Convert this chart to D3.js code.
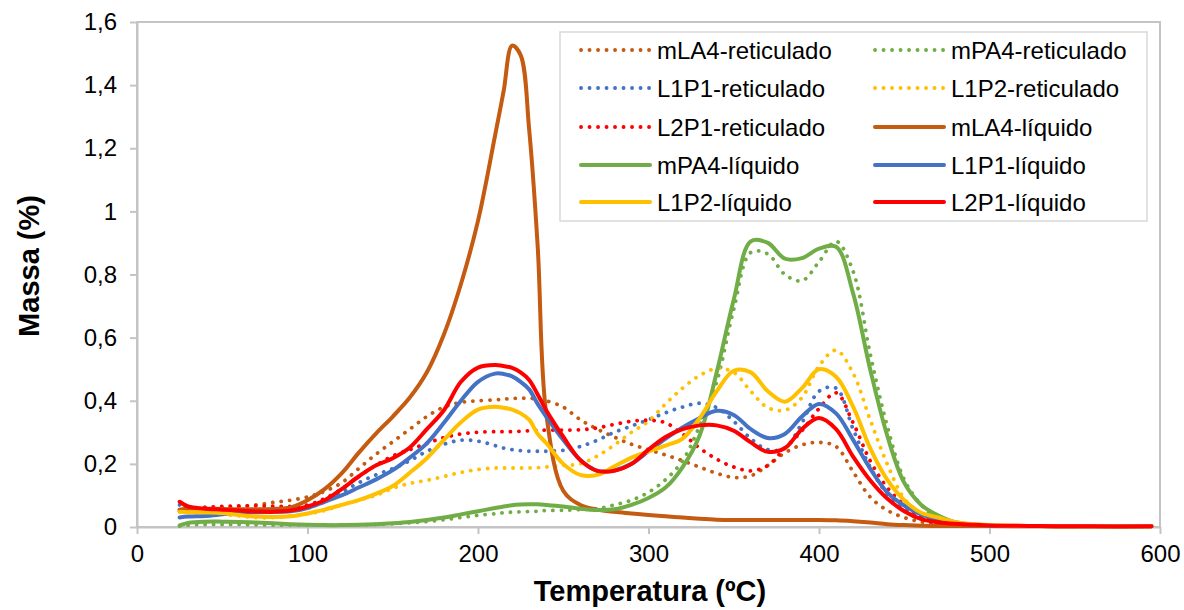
<!DOCTYPE html>
<html>
<head>
<meta charset="utf-8">
<script src="https://cdn.jsdelivr.net/npm/d3@7"></script>
<style>
  html, body { margin: 0; padding: 0; background: #fff; }
  svg { display: block; font-family: "Liberation Sans", Arial, sans-serif; }
</style>
</head>
<body>
<svg id="chart" width="1184" height="610"></svg>
<script>
// Temperature grid (ºC) shared by all DTG curves
const temperatures = [25, 30, 40, 50, 60, 70, 80, 90, 100, 110, 120, 130, 140, 150, 160, 170, 180, 190, 200,
  210, 215, 220, 225, 230, 235, 240, 250, 260, 270, 280, 290, 300, 310, 320, 330, 340, 350, 360, 370, 380,
  390, 400, 410, 420, 430, 440, 450, 460, 470, 480, 500, 530, 560, 595];

// Mass-loss rate (%) per sample
const mLA4Reticulado = [0.055, 0.06, 0.062, 0.063, 0.065, 0.07, 0.078, 0.085, 0.095, 0.113, 0.14, 0.185, 0.23, 0.27, 0.31, 0.35, 0.38, 0.395, 0.4,
  0.403, 0.405, 0.407, 0.408, 0.408, 0.405, 0.4, 0.38, 0.34, 0.31, 0.285, 0.262, 0.245, 0.228, 0.21, 0.19, 0.17, 0.157, 0.162, 0.195, 0.235,
  0.26, 0.268, 0.255, 0.175, 0.095, 0.053, 0.03, 0.016, 0.009, 0.006, 0.004, 0.003, 0.002, 0.002];
const mPA4Reticulado = [0.003, 0.006, 0.008, 0.008, 0.008, 0.007, 0.006, 0.006, 0.006, 0.006, 0.006, 0.007, 0.008, 0.01, 0.013, 0.017, 0.023, 0.03, 0.037,
  0.042, 0.045, 0.047, 0.048, 0.049, 0.05, 0.052, 0.053, 0.055, 0.058, 0.07, 0.085, 0.11, 0.15, 0.21, 0.32, 0.46, 0.69, 0.87, 0.865, 0.8,
  0.78, 0.84, 0.905, 0.81, 0.55, 0.32, 0.15, 0.07, 0.025, 0.01, 0.004, 0.003, 0.002, 0.002];
const L1P1Reticulado = [0.07, 0.062, 0.06, 0.058, 0.055, 0.052, 0.05, 0.055, 0.065, 0.085, 0.11, 0.14, 0.165, 0.185, 0.21, 0.24, 0.262, 0.275, 0.272,
  0.258, 0.25, 0.245, 0.242, 0.24, 0.24, 0.24, 0.243, 0.255, 0.275, 0.3, 0.32, 0.34, 0.362, 0.38, 0.392, 0.378, 0.335, 0.28, 0.245, 0.25,
  0.33, 0.43, 0.44, 0.31, 0.19, 0.105, 0.058, 0.03, 0.015, 0.008, 0.004, 0.003, 0.002, 0.002];
const L1P2Reticulado = [0.05, 0.048, 0.045, 0.04, 0.035, 0.03, 0.03, 0.035, 0.042, 0.052, 0.07, 0.085, 0.1, 0.123, 0.138, 0.148, 0.16, 0.173, 0.182,
  0.187, 0.187, 0.187, 0.187, 0.187, 0.188, 0.19, 0.195, 0.2, 0.225, 0.26, 0.3, 0.335, 0.39, 0.44, 0.48, 0.502, 0.49, 0.43, 0.378, 0.37,
  0.41, 0.51, 0.56, 0.487, 0.34, 0.2, 0.09, 0.042, 0.018, 0.009, 0.004, 0.003, 0.002, 0.002];
const L2P1Reticulado = [0.05, 0.058, 0.062, 0.065, 0.067, 0.067, 0.066, 0.065, 0.07, 0.09, 0.12, 0.16, 0.195, 0.225, 0.245, 0.265, 0.283, 0.295, 0.3,
  0.302, 0.302, 0.302, 0.303, 0.305, 0.306, 0.307, 0.307, 0.308, 0.314, 0.325, 0.335, 0.338, 0.33, 0.295, 0.25, 0.215, 0.19, 0.178, 0.195, 0.25,
  0.305, 0.375, 0.425, 0.33, 0.21, 0.125, 0.07, 0.033, 0.016, 0.008, 0.004, 0.003, 0.002, 0.002];
const mLA4Liquido = [0.055, 0.058, 0.058, 0.057, 0.056, 0.056, 0.057, 0.062, 0.085, 0.12, 0.17, 0.235, 0.295, 0.35, 0.41, 0.49, 0.61, 0.77, 0.97,
  1.24, 1.38, 1.525, 1.495, 1.26, 0.89, 0.36, 0.115, 0.07, 0.055, 0.048, 0.043, 0.038, 0.034, 0.03, 0.026, 0.023, 0.022, 0.022, 0.022, 0.022,
  0.022, 0.022, 0.021, 0.018, 0.014, 0.009, 0.006, 0.004, 0.003, 0.003, 0.003, 0.002, 0.002, 0.002];
const mPA4Liquido = [0.005, 0.013, 0.017, 0.017, 0.016, 0.014, 0.012, 0.009, 0.007, 0.006, 0.006, 0.007, 0.009, 0.012, 0.016, 0.022, 0.03, 0.04, 0.05,
  0.06, 0.065, 0.069, 0.071, 0.072, 0.072, 0.07, 0.065, 0.058, 0.054, 0.056, 0.07, 0.092, 0.125, 0.19, 0.29, 0.49, 0.72, 0.905, 0.9, 0.85,
  0.852, 0.882, 0.888, 0.74, 0.5, 0.29, 0.14, 0.07, 0.036, 0.015, 0.005, 0.003, 0.002, 0.002];
const L1P1Liquido = [0.03, 0.033, 0.035, 0.04, 0.045, 0.047, 0.048, 0.05, 0.06, 0.08, 0.1, 0.125, 0.15, 0.18, 0.22, 0.265, 0.33, 0.4, 0.46,
  0.486, 0.485, 0.477, 0.46, 0.436, 0.39, 0.35, 0.276, 0.212, 0.178, 0.18, 0.2, 0.24, 0.28, 0.315, 0.345, 0.368, 0.355, 0.31, 0.282, 0.295,
  0.35, 0.39, 0.36, 0.276, 0.185, 0.11, 0.068, 0.04, 0.024, 0.012, 0.005, 0.003, 0.002, 0.002];
const L1P2Liquido = [0.048, 0.047, 0.046, 0.044, 0.038, 0.033, 0.032, 0.034, 0.043, 0.055, 0.07, 0.085, 0.105, 0.13, 0.172, 0.218, 0.276, 0.332, 0.372,
  0.381, 0.378, 0.372, 0.36, 0.34, 0.295, 0.266, 0.2, 0.165, 0.165, 0.192, 0.22, 0.24, 0.258, 0.28, 0.345, 0.43, 0.495, 0.49, 0.43, 0.397,
  0.44, 0.5, 0.476, 0.381, 0.25, 0.15, 0.085, 0.045, 0.03, 0.015, 0.006, 0.003, 0.002, 0.002];
const L2P1Liquido = [0.08, 0.065, 0.058, 0.055, 0.052, 0.049, 0.048, 0.052, 0.065, 0.085, 0.12, 0.16, 0.195, 0.218, 0.252, 0.31, 0.37, 0.46, 0.505,
  0.513, 0.51, 0.504, 0.49, 0.466, 0.42, 0.37, 0.286, 0.212, 0.178, 0.178, 0.2, 0.245, 0.285, 0.31, 0.322, 0.322, 0.305, 0.268, 0.238, 0.25,
  0.31, 0.345, 0.31, 0.223, 0.148, 0.09, 0.05, 0.025, 0.015, 0.01, 0.005, 0.003, 0.002, 0.002];

const seriesNames = ["mLA4-reticulado", "mPA4-reticulado", "L1P1-reticulado", "L1P2-reticulado", "L2P1-reticulado",
  "mLA4-líquido", "mPA4-líquido", "L1P1-líquido", "L1P2-líquido", "L2P1-líquido"];
const seriesValues = [mLA4Reticulado, mPA4Reticulado, L1P1Reticulado, L1P2Reticulado, L2P1Reticulado,
  mLA4Liquido, mPA4Liquido, L1P1Liquido, L1P2Liquido, L2P1Liquido];
const seriesColors = ["#C55A11", "#70AD47", "#4472C4", "#FFC000", "#FF0000",
  "#C55A11", "#70AD47", "#4472C4", "#FFC000", "#FF0000"];
const seriesDotted = [true, true, true, true, true, false, false, false, false, false];

const xTicks = [0, 100, 200, 300, 400, 500, 600];
const yTicks = [0, 0.2, 0.4, 0.6, 0.8, 1, 1.2, 1.4, 1.6];
const yTickLabels = ["0", "0,2", "0,4", "0,6", "0,8", "1", "1,2", "1,4", "1,6"];

const svg = d3.select("#chart");
const plot = { left: 137, right: 1160, top: 22, bottom: 527 };

const x = d3.scaleLinear().domain([0, 600]).range([plot.left, plot.right]);
const y = d3.scaleLinear().domain([0, 1.6]).range([plot.bottom, plot.top]);

const axisColor = "#C4C4C4";

// plot-area frame
svg.append("rect")
  .attr("x", plot.left).attr("y", plot.top)
  .attr("width", plot.right - plot.left).attr("height", plot.bottom - plot.top)
  .attr("fill", "none").attr("stroke", axisColor).attr("stroke-width", 2);

// axes
const gx = svg.append("g")
  .attr("transform", `translate(0,${plot.bottom})`)
  .call(d3.axisBottom(x).tickValues(xTicks).tickSize(7).tickSizeOuter(0).tickPadding(11));
const gy = svg.append("g")
  .attr("transform", `translate(${plot.left},0)`)
  .call(d3.axisLeft(y).tickValues(yTicks).tickSize(7).tickSizeOuter(0).tickPadding(13)
    .tickFormat((d, i) => yTickLabels[i]));

[gx, gy].forEach(g => {
  g.select(".domain").attr("stroke", axisColor).attr("stroke-width", 2);
  g.selectAll(".tick line").attr("stroke", axisColor).attr("stroke-width", 2);
  g.selectAll(".tick text").attr("fill", "#000").style("font-size", "24px")
    .style("font-family", "'Liberation Sans', Arial, sans-serif");
});

// axis titles
svg.append("text")
  .attr("transform", "translate(39,266) rotate(-90)")
  .attr("text-anchor", "middle")
  .style("font-size", "29px").style("font-weight", "bold").attr("fill", "#000")
  .text("Massa (%)");
svg.append("text")
  .attr("x", 650).attr("y", 601)
  .attr("text-anchor", "middle")
  .style("font-size", "29px").style("font-weight", "bold").attr("fill", "#000")
  .text("Temperatura (ºC)");

// curves
const line = d3.line()
  .x(d => x(d[0]))
  .y(d => y(d[1]))
  .curve(d3.curveCatmullRom.alpha(0.5));

const series = seriesNames.map((name, i) => ({
  name,
  color: seriesColors[i],
  dotted: seriesDotted[i],
  points: temperatures.map((t, j) => [t, seriesValues[i][j]])
}));

function styleStroke(sel, s) {
  sel.attr("fill", "none")
    .attr("stroke", s.color)
    .attr("stroke-linecap", "round")
    .attr("stroke-linejoin", "round")
    .attr("stroke-width", s.dotted ? 3.8 : 4)
    .attr("stroke-dasharray", s.dotted ? "0.1 8.4" : null);
}

svg.append("g").selectAll("path")
  .data(series)
  .join("path")
  .attr("d", s => line(s.points))
  .each(function (s) { styleStroke(d3.select(this), s); });

// legend
const legend = svg.append("g");
legend.append("rect")
  .attr("x", 560).attr("y", 32).attr("width", 587).attr("height", 189)
  .attr("fill", "#fff").attr("stroke", "#D9D9D9").attr("stroke-width", 1.5);

const colX = [581, 875];
const rowY = [50, 88, 127, 165, 202];
series.forEach((s, i) => {
  const cx = colX[i % 2];
  const cy = rowY[Math.floor(i / 2)];
  legend.append("line")
    .attr("x1", cx).attr("x2", cx + 69).attr("y1", cy).attr("y2", cy)
    .call(sel => styleStroke(sel, s));
  legend.append("text")
    .attr("x", cx + 76).attr("y", cy + 8.5)
    .style("font-size", "24px").attr("fill", "#000")
    .text(s.name);
});
</script>
</body>
</html>
